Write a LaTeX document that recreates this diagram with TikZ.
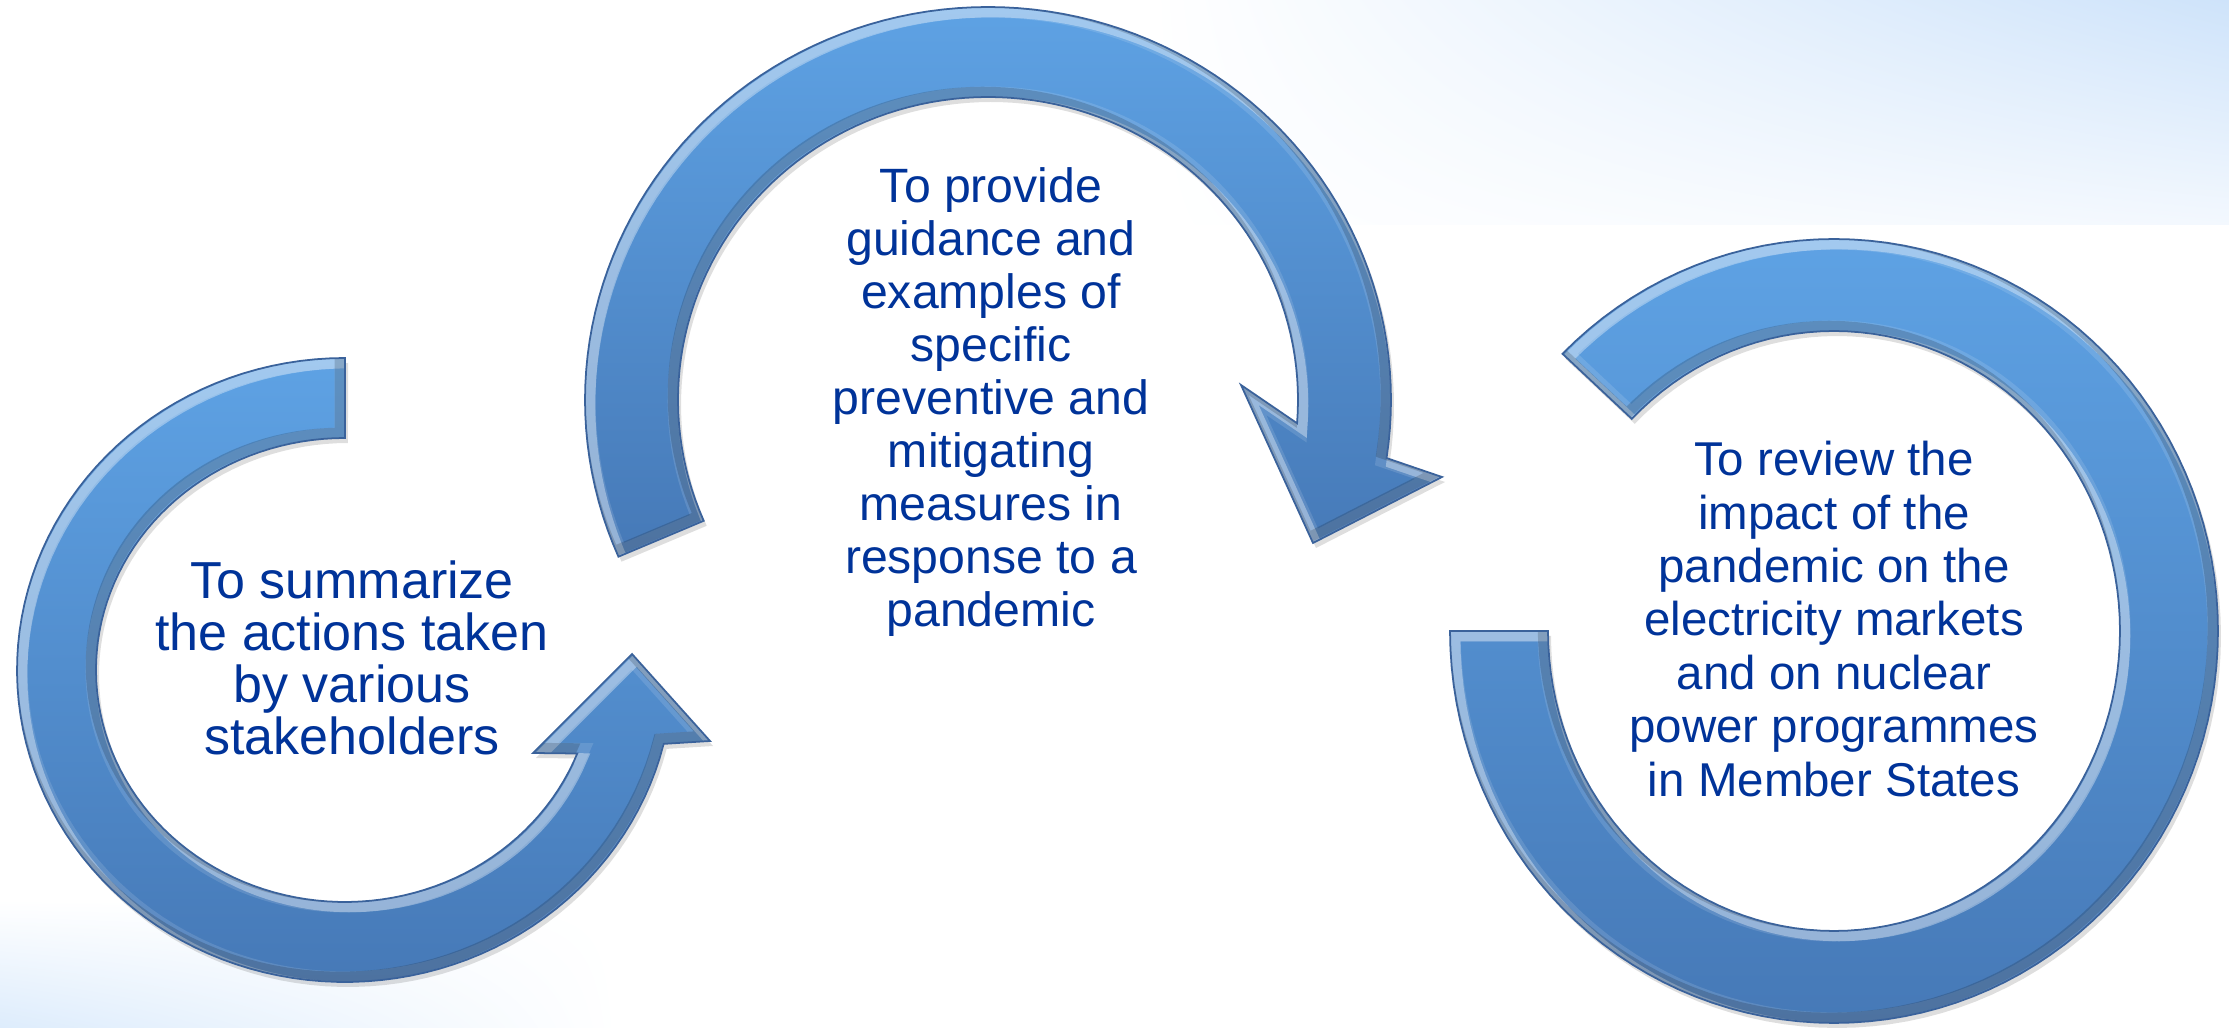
\documentclass[tikz,border=0pt]{standalone}
\usepackage{fontspec}
\setmainfont{Liberation Sans}
\usetikzlibrary{shadings}
\definecolor{ringtop}{RGB}{94,162,228}
\definecolor{ringbot}{RGB}{70,121,183}
\definecolor{ringline}{RGB}{58,98,155}
\definecolor{textblue}{RGB}{0,51,153}
\definecolor{bgtr}{RGB}{206,227,250}
\definecolor{bgtrlow}{RGB}{243,248,254}
\definecolor{bgbl}{RGB}{221,236,252}
\tikzset{
  txt/.style={align=center, text=textblue, inner sep=0pt},
  ringfill/.style={top color=ringtop, bottom color=ringbot},
  ringedge/.style={draw=ringline, line width=0.5pt},
  ringshadow/.style={fill=black, opacity=0.13},
}
\def\pathA{plot[domain=0:256.3, samples=100] ({345+328*cos(-90-\x)},{670+312*sin(-90-\x)}) -- (710,741) -- (632,654) -- (533,753) -- plot[domain=0:248.9, samples=100] ({345+249*cos(-338.9+\x)},{670+232*sin(-338.9+\x)}) -- cycle}
\def\pathB{plot[domain=156.5:368.5, samples=100] ({988+403*cos(\x)},{400+393*sin(\x)}) -- (1442,477) -- (1313,543) -- (1241,385) -- plot[domain=0:207.9, samples=100] ({988+310*cos(364.4-\x)},{400+303*sin(364.4-\x)}) -- cycle}
\def\pathC{plot[domain=225:540, samples=120] ({1834+384*cos(\x)},{631+392*sin(\x)}) -- plot[domain=0:315, samples=120] ({1834+286*cos(540-\x)},{631+300*sin(540-\x)}) -- cycle}
\newcommand{\ringshape}[1]{%
  \fill[ringshadow, shift={(3,5)}] #1;
  \shade[ringfill] #1;
  \begin{scope}
    \clip #1;
    \draw[white, opacity=0.12, line width=6pt] #1;
    \draw[white, opacity=0.35, line width=3pt, shift={(5,5)}] #1;
    \draw[black, opacity=0.16, line width=3pt, shift={(-5,-5)}] #1;
  \end{scope}
  \draw[ringedge] #1;
}
\begin{document}
\begin{tikzpicture}[x=0.01cm, y=-0.01cm]
\useasboundingbox (0,0) rectangle (2229,1028);
\fill[white] (0,0) rectangle (2229,1028);
\shade[upper left=white, upper right=bgtr, lower left=white, lower right=bgtrlow] (1150,0) rectangle (2229,225);
\shade[upper left=white, upper right=white, lower left=bgbl, lower right=white] (0,900) rectangle (620,1028);
\ringshape{\pathA}
\ringshape{\pathB}
\ringshape{\pathC}
\node[txt, font=\fontsize{14.8}{14.8}\selectfont] (t1) at (352,658) {To summarize\\the actions taken\\by various\\stakeholders};
\node[txt, font=\fontsize{13.7}{15.1}\selectfont] (t2) at (991,402) {To provide\\guidance and\\examples of\\specific\\preventive and\\mitigating\\measures in\\response to a\\pandemic};
\node[txt, font=\fontsize{13.5}{15.2}\selectfont] (t3) at (1834,619) {To review the\\impact of the\\pandemic on the\\electricity markets\\and on nuclear\\power programmes\\in Member States};
\end{tikzpicture}
\end{document}
